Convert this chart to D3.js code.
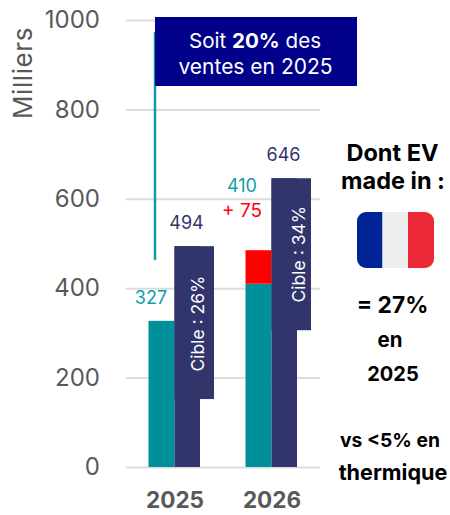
<!DOCTYPE html>
<html>
<head>
<meta charset="utf-8">
<script src="https://cdn.jsdelivr.net/npm/d3@7"></script>
<style>
  html, body { margin: 0; padding: 0; background: #fff; }
  svg { display: block; }
  text { font-family: Inter, "Open Sans", sans-serif; }
  .domain { display: none; }
</style>
</head>
<body>
<div id="vis"></div>
<script>
const width = 450;
const height = 515;

// values (thousands)
const years = ["2025", "2026"];
const sales = [327, 410];
const extra = [0, 75];
const targets = [494, 646];
const targetLabels = ["Cible : 26%", "Cible : 34%"];
const labelBoxBottoms = [152, 306];
const yTicks = [0, 200, 400, 600, 800, 1000];
const leaderLine = [463, 973];

const teal = "#009099";
const navy = "#32356c";
const grey = "#595959";

const svg = d3.select("#vis").append("svg").attr("width", width).attr("height", height);

const y = d3.scaleLinear().domain([0, 1000]).range([467, 20]);
const x = d3.scalePoint().domain(years).range([174.5, 271.5]);

const barW = 26;
const boxW = 39.5;

// grid + tick labels
const yAxis = svg.append("g")
  .attr("transform", "translate(126,0)")
  .call(d3.axisLeft(y).tickValues(yTicks).tickSize(-194).tickPadding(26).tickFormat(d3.format("d")));
yAxis.selectAll(".tick line").attr("stroke", "#dcdcdc").attr("stroke-width", 2);
yAxis.selectAll(".tick text").attr("fill", grey).style("font-size", "24px").style("font-weight", "400");

svg.append("text")
  .attr("transform", "translate(32,73) rotate(-90)")
  .attr("text-anchor", "middle")
  .attr("fill", grey)
  .style("font-size", "26px")
  .style("letter-spacing", "0.6px")
  .style("font-weight", "400")
  .text("Milliers");

// year labels
const xAxis = svg.append("g")
  .attr("transform", "translate(0,467)")
  .call(d3.axisBottom(x).tickSize(0).tickPadding(25));
xAxis.selectAll(".tick text")
  .attr("fill", grey)
  .style("font-size", "22.5px")
  .style("font-weight", "700");

// leader line + callout
svg.append("line")
  .attr("x1", 155).attr("x2", 155)
  .attr("y1", y(leaderLine[0])).attr("y2", y(leaderLine[1]))
  .attr("stroke", "#0f9ea5")
  .attr("stroke-width", 2.5);

svg.append("rect")
  .attr("x", 155).attr("y", 17)
  .attr("width", 202).attr("height", 69)
  .attr("fill", "#00008b");

const call1 = svg.append("text")
  .attr("x", 255).attr("y", 48)
  .attr("text-anchor", "middle")
  .attr("fill", "#fff")
  .style("font-size", "20.6px")
  .style("font-weight", "400");
call1.append("tspan").text("Soit ");
call1.append("tspan").style("font-weight", "700").text("20%");
call1.append("tspan").text(" des");
svg.append("text")
  .attr("x", 255.5).attr("y", 74)
  .attr("text-anchor", "middle")
  .attr("fill", "#fff")
  .style("font-size", "21px")
  .style("font-weight", "400")
  .text("ventes en 2025");

// bars
const labelX = [29.5, 33.5];
years.forEach((yr, i) => {
  const cx = x(yr);

  svg.append("rect")
    .attr("x", cx - barW).attr("y", y(sales[i]))
    .attr("width", barW).attr("height", y(0) - y(sales[i]))
    .attr("fill", teal);

  if (extra[i] > 0) {
    svg.append("rect")
      .attr("x", cx - barW).attr("y", y(sales[i] + extra[i]))
      .attr("width", barW).attr("height", y(sales[i]) - y(sales[i] + extra[i]))
      .attr("fill", "#ff0000");
  }

  svg.append("rect")
    .attr("x", cx).attr("y", y(targets[i]))
    .attr("width", barW - 0.5).attr("height", y(0) - y(targets[i]))
    .attr("fill", navy);

  // wider box holding the rotated label
  svg.append("rect")
    .attr("x", cx).attr("y", y(targets[i]))
    .attr("width", boxW).attr("height", y(labelBoxBottoms[i]) - y(targets[i]))
    .attr("fill", navy);

  svg.append("text")
    .attr("transform", `translate(${cx + labelX[i]},${(y(targets[i]) + y(labelBoxBottoms[i])) / 2 + (i ? 0 : 1)}) rotate(-90)`)
    .attr("text-anchor", "middle")
    .attr("fill", "#fff")
    .style("font-size", "17.5px")
    .style("font-weight", "400")
    .text(targetLabels[i]);

  svg.append("text")
    .attr("x", cx + 12).attr("y", y(targets[i]) - 17)
    .attr("text-anchor", "middle")
    .attr("fill", navy)
    .style("font-size", "18px")
    .style("font-weight", "400")
    .text(targets[i]);
});

// labels on the sales bars
svg.append("text")
  .attr("x", 151).attr("y", 304)
  .attr("text-anchor", "middle")
  .attr("fill", "#0f9ea5")
  .style("font-size", "18px")
  .style("font-weight", "400")
  .text(sales[0]);
svg.append("text")
  .attr("x", 242).attr("y", 192)
  .attr("text-anchor", "middle")
  .attr("fill", "#0f9ea5")
  .style("font-size", "18px")
  .style("font-weight", "400")
  .text(sales[1]);
svg.append("text")
  .attr("x", 242).attr("y", 217)
  .attr("text-anchor", "middle")
  .attr("fill", "#ff0000")
  .style("font-size", "19px")
  .style("font-weight", "400")
  .text("+ " + extra[1]);

// right-hand note
const notes = [
  { t: "Dont EV", x: 392.5, y: 161, s: 23.5 },
  { t: "made in :", x: 393, y: 189, s: 23.5 },
  { t: "= 27%", x: 392.5, y: 313, s: 22.8 },
  { t: "en", x: 390, y: 347, s: 20.5 },
  { t: "2025", x: 393, y: 381, s: 20 },
  { t: "vs <5% en", x: 390, y: 447, s: 19.3 },
  { t: "thermique", x: 393, y: 480, s: 21.6 },
];
svg.selectAll("text.note")
  .data(notes)
  .join("text")
  .attr("class", "note")
  .attr("x", d => d.x)
  .attr("y", d => d.y)
  .attr("text-anchor", "middle")
  .attr("fill", "#000")
  .style("font-weight", "700")
  .style("font-size", d => d.s + "px")
  .text(d => d.t);

// flag
const clip = svg.append("clipPath").attr("id", "flagClip");
clip.append("rect").attr("x", 357).attr("y", 212).attr("width", 77).attr("height", 56).attr("rx", 9);
const flag = svg.append("g").attr("clip-path", "url(#flagClip)");
flag.append("rect").attr("x", 357).attr("y", 212).attr("width", 25.5).attr("height", 56).attr("fill", "#002395");
flag.append("rect").attr("x", 382.5).attr("y", 212).attr("width", 25.5).attr("height", 56).attr("fill", "#eeeeee");
flag.append("rect").attr("x", 408).attr("y", 212).attr("width", 26).attr("height", 56).attr("fill", "#ed2939");
</script>
</body>
</html>
